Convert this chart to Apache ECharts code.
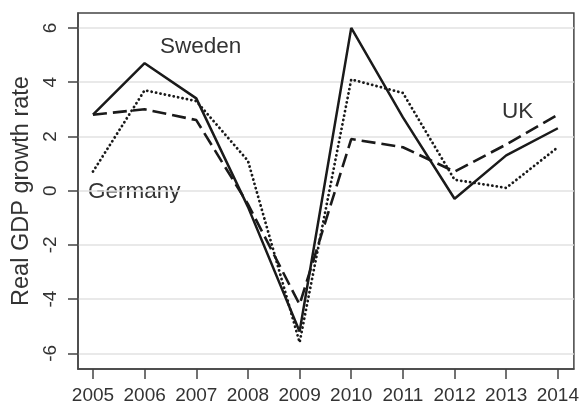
<!DOCTYPE html>
<html>
<head>
<meta charset="utf-8">
<script src="https://cdn.jsdelivr.net/npm/echarts@6/dist/echarts.min.js"></script>
<style>
  html, body { margin: 0; padding: 0; background: #fff; }
  #chart { width: 582px; height: 405px; }
</style>
</head>
<body>
<div id="chart"></div>
<script>
const years = [2005, 2006, 2007, 2008, 2009, 2010, 2011, 2012, 2013, 2014]
const yTicks = [-6, -4, -2, 0, 2, 4, 6]
const sweden = [2.8, 4.7, 3.4, -0.6, -5.2, 6.0, 2.7, -0.3, 1.3, 2.3]
const uk = [2.8, 3.0, 2.6, -0.5, -4.2, 1.9, 1.6, 0.7, 1.7, 2.8]
const germany = [0.7, 3.7, 3.3, 1.1, -5.6, 4.1, 3.6, 0.4, 0.1, 1.6]

const pairs = vals => years.map((y, i) => [y, vals[i]])
const ink = '#1a1a1a'
const textColor = '#333'
const font = 'Liberation Sans'

const chart = echarts.init(document.getElementById('chart'))
chart.setOption({
  animation: false,
  backgroundColor: '#fff',
  textStyle: { fontFamily: font },
  grid: {
    left: 78, right: 7, top: 13, bottom: 33,
    show: true,
    borderColor: '#444',
    borderWidth: 1.5,
    containLabel: false
  },
  xAxis: {
    type: 'value',
    min: 2004.71,
    max: 2014.31,
    axisLine: { show: true, onZero: false, lineStyle: { color: '#444', width: 1.5 } },
    axisTick: { show: true, length: 10, customValues: years, lineStyle: { color: '#444', width: 1.5 } },
    axisLabel: {
      customValues: years,
      formatter: v => String(v),
      color: textColor, fontSize: 19, margin: 17, fontFamily: font
    },
    splitLine: { show: false }
  },
  yAxis: {
    type: 'value',
    min: -6.58,
    max: 6.55,
    name: 'Real GDP growth rate',
    nameLocation: 'middle',
    nameGap: 40,
    nameRotate: 90,
    nameTextStyle: { color: textColor, fontSize: 23.5, fontFamily: font },
    axisLine: { show: true, lineStyle: { color: '#444', width: 1.5 } },
    axisTick: { show: true, length: 10, customValues: yTicks, lineStyle: { color: '#444', width: 1.5 } },
    axisLabel: { customValues: yTicks, rotate: 90, color: textColor, fontSize: 19, margin: 18, fontFamily: font },
    splitLine: { show: true, lineStyle: { color: '#e2e2e2', width: 1.5 } }
  },
  graphic: [
    { type: 'text', left: 160, top: 35, style: { text: 'Sweden', fontSize: 22.5, fontFamily: font, fill: textColor } },
    { type: 'text', left: 88, top: 180, style: { text: 'Germany', fontSize: 22.5, fontFamily: font, fill: textColor } },
    { type: 'text', left: 502, top: 100, style: { text: 'UK', fontSize: 22.5, fontFamily: font, fill: textColor } }
  ],
  series: [
    {
      name: 'Germany',
      type: 'line',
      data: pairs(germany),
      symbol: 'none',
      lineStyle: { color: ink, width: 2.8, type: [0.1, 4.4], cap: 'round' }
    },
    {
      name: 'UK',
      type: 'line',
      data: pairs(uk),
      symbol: 'none',
      lineStyle: { color: ink, width: 2.6, type: [14, 6] }
    },
    {
      name: 'Sweden',
      type: 'line',
      data: pairs(sweden),
      symbol: 'none',
      lineStyle: { color: ink, width: 2.5, type: 'solid' }
    }
  ]
})
</script>
</body>
</html>
